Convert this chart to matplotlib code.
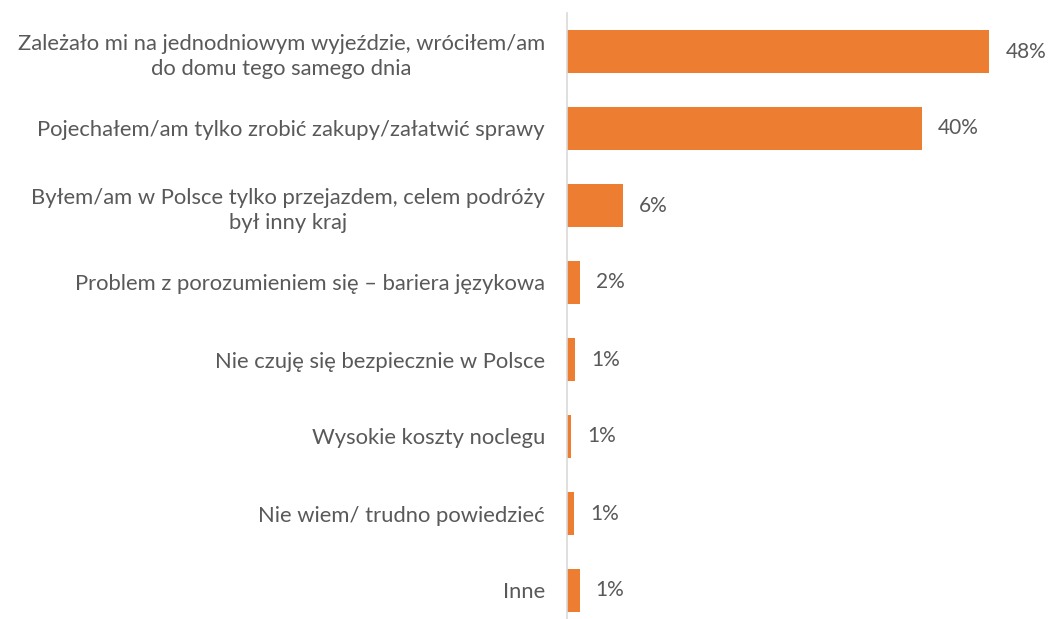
import matplotlib
matplotlib.use("Agg")
import matplotlib.pyplot as plt

categories = [
    "Zależało mi na jednodniowym wyjeździe, wróciłem/am\ndo domu tego samego dnia",
    "Pojechałem/am tylko zrobić zakupy/załatwić sprawy",
    "Byłem/am w Polsce tylko przejazdem, celem podróży\nbył inny kraj",
    "Problem z porozumieniem się – bariera językowa",
    "Nie czuję się bezpiecznie w Polsce",
    "Wysokie koszty noclegu",
    "Nie wiem/ trudno powiedzieć",
    "Inne",
]
values = [48.0, 40.3, 6.4, 1.5, 0.9, 0.45, 0.8, 1.45]
value_labels = ["48%", "40%", "6%", "2%", "1%", "1%", "1%", "1%"]

TEXT = "#595959"
BAR = "#ED7D31"

plt.rcParams["font.family"] = ["Lato", "DejaVu Sans"]

fig = plt.figure(figsize=(10.48, 6.19), dpi=100)
ax = fig.add_axes([567 / 1048, 1 - 629 / 619, 440 / 1048, 616 / 619])

y = list(range(len(categories)))
ax.barh(y, values, height=0.56, color=BAR)
ax.set_xlim(0, 50)
ax.set_ylim(len(categories) - 0.5, -0.5)
ax.set_yticks(y)
ax.set_yticklabels(categories, fontsize=15.8, color=TEXT, linespacing=1.35,
                   multialignment="center")
ax.tick_params(axis="y", length=0, pad=16)
ax.set_xticks([])
for s in ["top", "right", "bottom"]:
    ax.spines[s].set_visible(False)
ax.spines["left"].set_color("#D9D9D9")
ax.spines["left"].set_linewidth(1.2)

for yi, v, lab in zip(y, values, value_labels):
    ax.annotate(lab, (v, yi), xytext=(11.5, 0), textcoords="offset points",
                va="center", ha="left", fontsize=15, color=TEXT,
                annotation_clip=False)

fig.savefig("out.png", dpi=100)
